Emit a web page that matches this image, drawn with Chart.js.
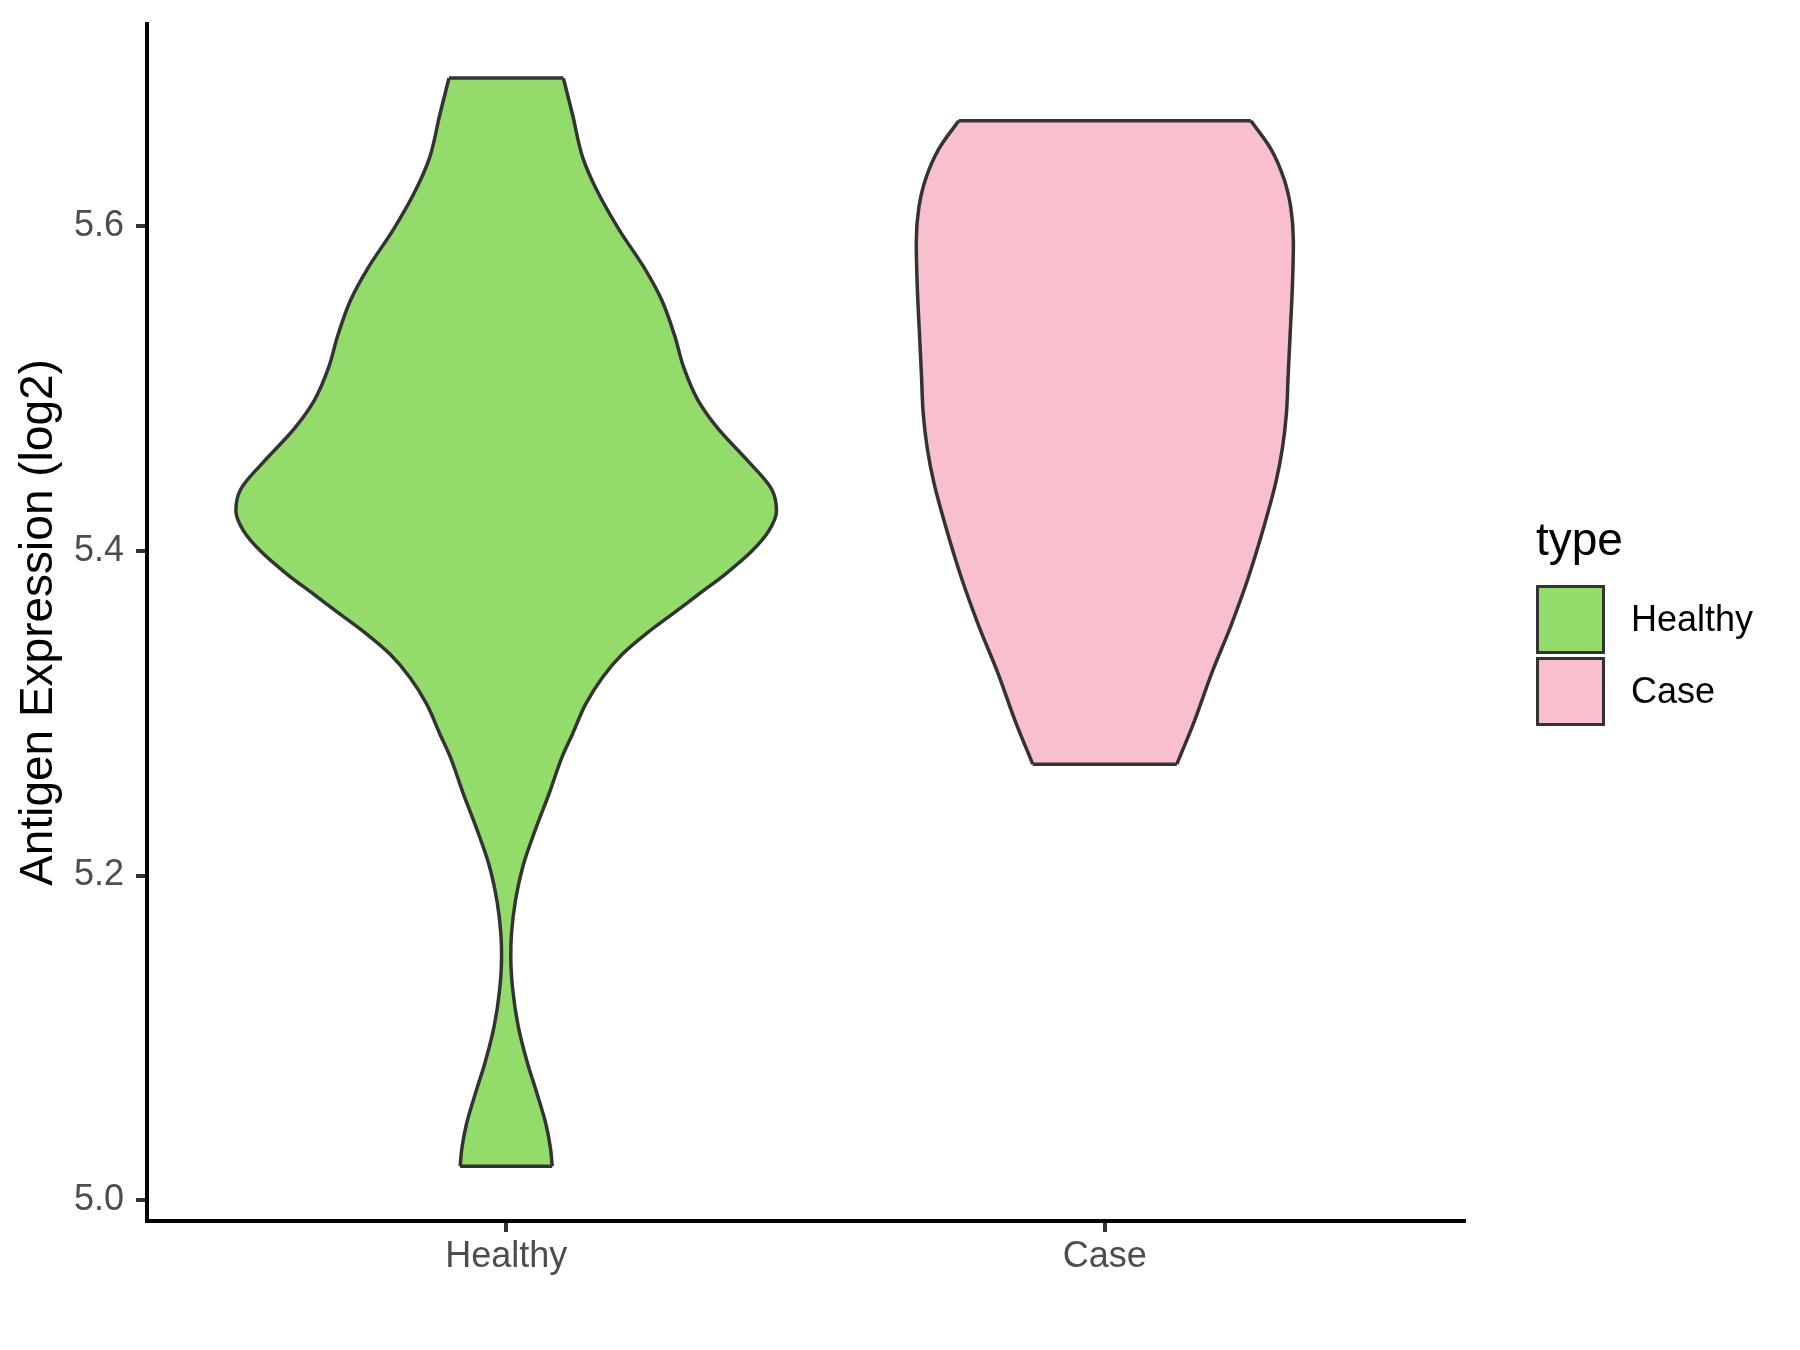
<!DOCTYPE html>
<html>
<head>
<meta charset="utf-8">
<title>Antigen Expression violin</title>
<script src="https://cdn.jsdelivr.net/npm/chart.js@4.4.1/dist/chart.umd.min.js"></script>
<style>
  body { margin: 0; background: #fff; }
  #wrap { position: relative; width: 1800px; height: 1350px; }
  #legend { position: absolute; left: 1536px; top: 516px; font-family: "Liberation Sans", Arial, sans-serif; }
  #legend .title { font-size: 46px; line-height: 46px; color: #000; height: 67px; }
  #legend .row { display: flex; align-items: center; height: 72px; }
  #legend .key { width: 69px; height: 69px; box-sizing: border-box; border: 3.5px solid #333333; }
  #legend .label { font-size: 36px; line-height: 36px; color: #000; margin-left: 26px; }
</style>
</head>
<body>
<div id="wrap">
  <canvas id="violinChart" width="1800" height="1350"></canvas>
  <div id="legend"></div>
</div>
<script>
const categories = ['Healthy', 'Case'];
const fillColors = ['#93DC6B', '#F8C0CC'];
const outlineColor = '#333333';
const yTicks = [5.0, 5.2, 5.4, 5.6];

// Violin outlines: level (log2) and half width (in category units)
const healthyY = [5.6912, 5.6686, 5.6422, 5.6224, 5.5982, 5.5741, 5.5543, 5.5323, 5.5125, 5.4927,
  5.4751, 5.4554, 5.4378, 5.4246, 5.4123, 5.4000, 5.3857, 5.3734, 5.3610, 5.3487, 5.3364, 5.3220,
  5.3057, 5.2872, 5.2732, 5.2508, 5.2281, 5.2065, 5.1837, 5.1643, 5.1506, 5.1302, 5.1074, 5.0847,
  5.0665, 5.0471, 5.0323, 5.0209];
const healthyHalfWidth = [0.0955, 0.1109, 0.1279, 0.1510, 0.1880, 0.2310, 0.2600, 0.2816, 0.2970, 0.3205,
  0.3543, 0.4037, 0.4437, 0.4515, 0.4387, 0.4108, 0.3663, 0.3220, 0.2775, 0.2330, 0.1942, 0.1608,
  0.1330, 0.1108, 0.0936, 0.0720, 0.0486, 0.0286, 0.0151, 0.0089, 0.0077, 0.0108, 0.0200, 0.0354,
  0.0508, 0.0662, 0.0739, 0.0769];

const caseY = [5.6649, 5.6476, 5.6289, 5.6116, 5.5902, 5.5635, 5.5328, 5.5075, 5.4848, 5.4634,
  5.4421, 5.4154, 5.3834, 5.3540, 5.3247, 5.2953, 5.2686];
const caseHalfWidth = [0.2440, 0.2773, 0.2995, 0.3106, 0.3150, 0.3134, 0.3095, 0.3062, 0.3034, 0.2967,
  0.2856, 0.2662, 0.2396, 0.2108, 0.1786, 0.1498, 0.1204];

Chart.defaults.font.family = '"Liberation Sans", Arial, sans-serif';

function violinDatasets(center, ys, halfWidths, fill) {
  const line = {
    borderColor: outlineColor,
    borderWidth: 3.5,
    pointRadius: 0,
    pointHoverRadius: 0,
    cubicInterpolationMode: 'monotone'
  };
  const last = ys.length - 1;
  return [
    { ...line, data: ys.map((y, i) => ({ x: center - halfWidths[i], y })), fill: false },
    { ...line, data: ys.map((y, i) => ({ x: center + halfWidths[i], y })), fill: '-1', backgroundColor: fill },
    { ...line, cubicInterpolationMode: 'default', tension: 0, fill: false,
      data: [{ x: center - halfWidths[0], y: ys[0] }, { x: center + halfWidths[0], y: ys[0] }] },
    { ...line, cubicInterpolationMode: 'default', tension: 0, fill: false,
      data: [{ x: center - halfWidths[last], y: ys[last] }, { x: center + halfWidths[last], y: ys[last] }] }
  ];
}

const datasets = [
  ...violinDatasets(1, healthyY, healthyHalfWidth, fillColors[0]),
  ...violinDatasets(2, caseY, caseHalfWidth, fillColors[1])
];

new Chart(document.getElementById('violinChart'), {
  type: 'line',
  data: { datasets },
  options: {
    responsive: false,
    animation: false,
    indexAxis: 'y',
    layout: { padding: { top: 24, right: 336, bottom: 0, left: 0 } },
    plugins: {
      legend: { display: false },
      tooltip: { enabled: false },
      filler: { drawTime: 'beforeDatasetsDraw' }
    },
    scales: {
      x: {
        type: 'linear',
        min: 0.4,
        max: 2.6,
        afterFit: s => { s.height = 129; s.paddingLeft = 0; s.paddingRight = 0; },
        afterBuildTicks: s => { s.ticks = categories.map((c, i) => ({ value: i + 1 })); },
        ticks: {
          autoSkip: false,
          maxRotation: 0,
          padding: 3,
          color: '#4D4D4D',
          font: { size: 36 },
          callback: v => categories[v - 1]
        },
        grid: { drawOnChartArea: false, tickLength: 11, lineWidth: 4, color: '#333333' },
        border: { display: true, color: '#000000', width: 4 }
      },
      y: {
        type: 'linear',
        min: 4.9872,
        max: 5.7245,
        afterFit: s => { s.width = 147; s.paddingTop = 0; s.paddingBottom = 0; },
        afterBuildTicks: s => { s.ticks = yTicks.map(v => ({ value: v })); },
        ticks: {
          padding: 12,
          color: '#4D4D4D',
          font: { size: 36 },
          callback: v => v.toFixed(1)
        },
        grid: { drawOnChartArea: false, tickLength: 11, lineWidth: 4, color: '#333333' },
        border: { display: true, color: '#000000', width: 4 },
        title: {
          display: true,
          text: 'Antigen Expression (log2)',
          color: '#000000',
          font: { size: 46 },
          padding: { top: 12, bottom: 0 }
        }
      }
    }
  }
});

function buildLegend() {
  const box = document.getElementById('legend');
  let html = '<div class="title">type</div>';
  categories.forEach((c, i) => {
    html += `<div class="row"><div class="key" style="background:${fillColors[i]}"></div>` +
      `<div class="label">${c}</div></div>`;
  });
  box.innerHTML = html;
}

buildLegend();
</script>
</body>
</html>
